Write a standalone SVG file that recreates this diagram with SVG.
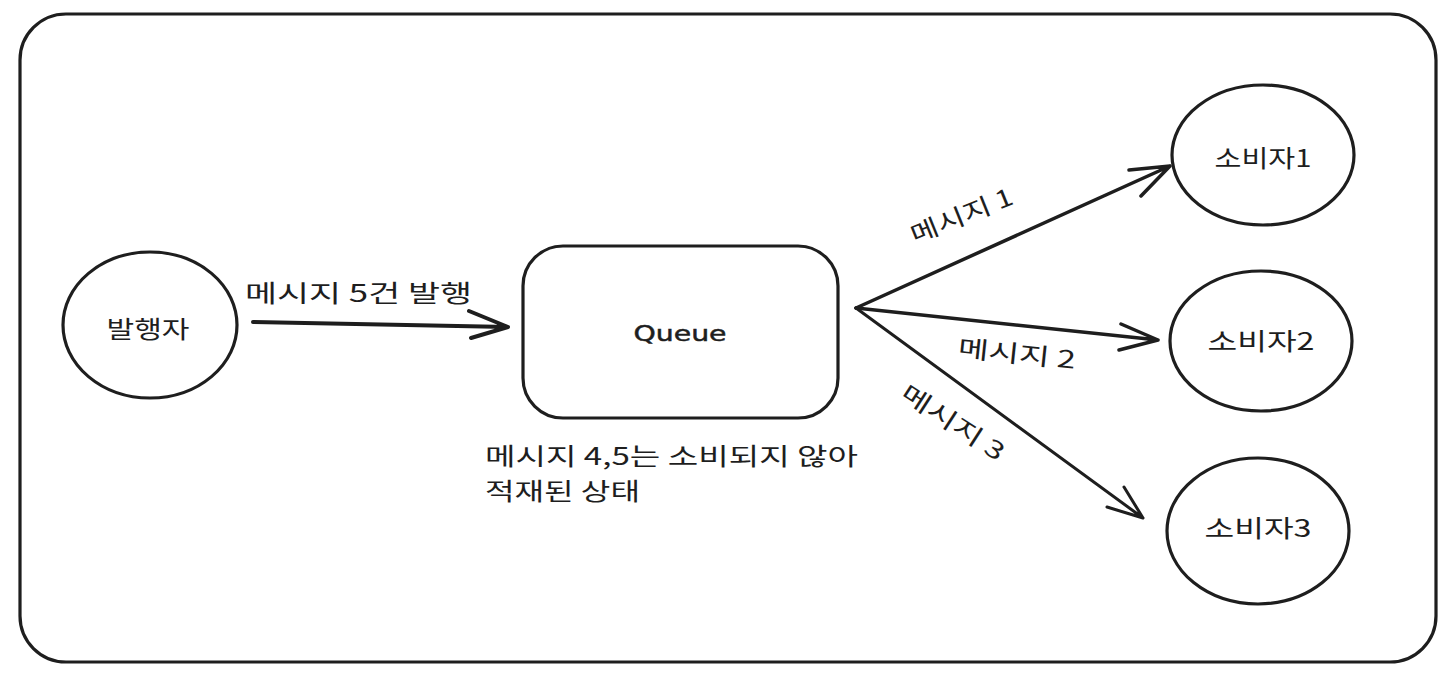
<svg xmlns="http://www.w3.org/2000/svg" width="1444" height="680" viewBox="0 0 1444 680">
<defs>
<style>
.sh{fill:none;stroke:#1e1e1e;stroke-width:3.2;stroke-linecap:round;stroke-linejoin:round}
.ln{fill:none;stroke:#1e1e1e;stroke-width:3;stroke-linecap:round;stroke-linejoin:round}
.kt{font-family:"Noto Sans CJK KR","Noto Sans",sans-serif;font-size:24px;font-weight:400;fill:#1e1e1e}
.qt{font-family:"DejaVu Sans",sans-serif;font-size:22px;fill:#1e1e1e;stroke:#1e1e1e;stroke-width:0.5}
</style>
</defs>
<rect width="1444" height="680" fill="#ffffff"/>
<g id="frame">
<rect class="sh" x="20" y="14" width="1416" height="648" rx="46" ry="46"/>
</g>
<g id="publisher">
<ellipse class="sh" cx="150" cy="325" rx="87" ry="73"/>
<text class="kt" x="148" y="338" text-anchor="middle" textLength="83" lengthAdjust="spacingAndGlyphs">발행자</text>
</g>
<g id="queue">
<rect class="sh" x="523" y="246" width="315" height="172" rx="40" ry="40"/>
<text class="qt" x="680" y="341" text-anchor="middle" textLength="93" lengthAdjust="spacingAndGlyphs">Queue</text>
</g>
<g id="queue-note">
<text class="kt" x="485" y="465" textLength="373" lengthAdjust="spacingAndGlyphs">메시지 4,5는 소비되지 않아</text>
<text class="kt" x="485" y="500" textLength="155" lengthAdjust="spacingAndGlyphs">적재된 상태</text>
</g>
<g id="consumer1">
<ellipse class="sh" cx="1263" cy="155" rx="91" ry="70"/>
<text class="kt" x="1263" y="167" text-anchor="middle" textLength="97" lengthAdjust="spacingAndGlyphs">소비자1</text>
</g>
<g id="consumer2">
<ellipse class="sh" cx="1261" cy="341" rx="91" ry="70"/>
<text class="kt" x="1261" y="350" text-anchor="middle" textLength="107" lengthAdjust="spacingAndGlyphs">소비자2</text>
</g>
<g id="consumer3">
<ellipse class="sh" cx="1258" cy="531" rx="91" ry="73"/>
<text class="kt" x="1258" y="537" text-anchor="middle" textLength="107" lengthAdjust="spacingAndGlyphs">소비자3</text>
</g>
<g id="connectors">
<path class="ln" style="stroke-width:4" d="M253 322 L508 327 M469 311 L508 327 L471 338"/>
<text class="kt" x="245" y="302" textLength="227" lengthAdjust="spacingAndGlyphs">메시지 5건 발행</text>
<path class="ln" style="stroke-width:3.5" d="M856 308 L1170 166 M1129 170 L1170 166 L1141 196"/>
<path class="ln" style="stroke-width:3.5" d="M856 308 L1158 340 M1121 324 L1158 340 L1119 350"/>
<path class="ln" d="M856 308 L1143 518 M1124 487 L1143 518 L1107 507"/>
<text class="kt" transform="translate(961 214) rotate(-22)" text-anchor="middle" dominant-baseline="central" textLength="108" lengthAdjust="spacingAndGlyphs">메시지 1</text>
<text class="kt" transform="translate(1017 352) rotate(6)" text-anchor="middle" dominant-baseline="central" textLength="118" lengthAdjust="spacingAndGlyphs">메시지 2</text>
<text class="kt" transform="translate(954 421) rotate(33)" text-anchor="middle" dominant-baseline="central" textLength="118" lengthAdjust="spacingAndGlyphs">메시지 3</text>
</g>
</svg>
